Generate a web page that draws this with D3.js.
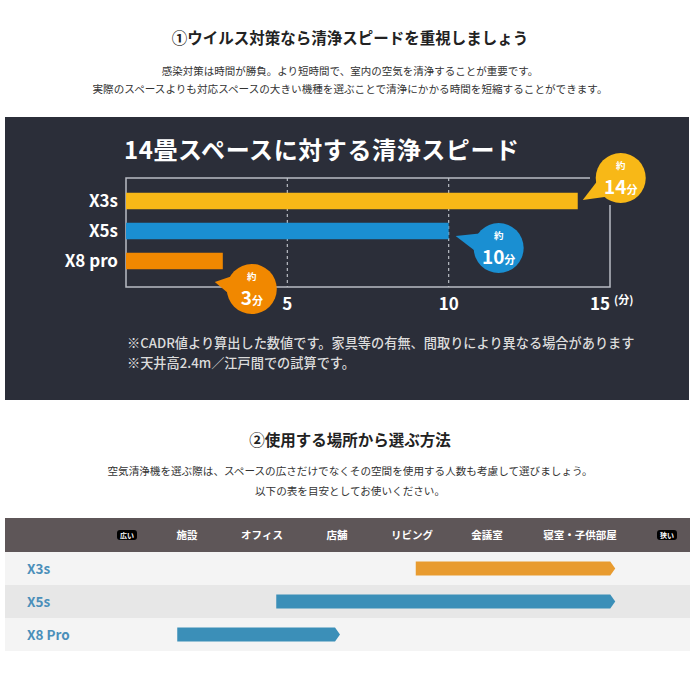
<!DOCTYPE html>
<html>
<head>
<meta charset="utf-8">
<script src="https://cdn.jsdelivr.net/npm/d3@7"></script>
<style>
  body { margin: 0; background: #fff; }
  text { font-family: "Noto Sans CJK JP", "Noto Sans", sans-serif; }
</style>
</head>
<body>
<div id="chart"></div>
<script>
// Data
var models = ["X3s", "X5s", "X8 pro"];
var minutes = [14, 10, 3];
var speedTicks = [5, 10, 15];
var barColors = ["#f8b817", "#1a8fd2", "#f18800"];

var places = ["施設", "オフィス", "店舗", "リビング", "会議室", "寝室・子供部屋"];
var rangeModels = ["X3s", "X5s", "X8 Pro"];
var rangeFrom = [3.05, 1.19, -0.13];
var rangeTo = [5.71, 5.71, 2.04];
var rangeColors = ["#e89b2f", "#3b8fb8", "#3b8fb8"];

var width = 700, height = 700;

var svg = d3.select("#chart")
  .append("svg")
  .attr("width", width)
  .attr("height", height);

// ---------- section 1 header ----------
svg.append("text")
  .attr("x", 350).attr("y", 44)
  .attr("text-anchor", "middle")
  .attr("font-size", 15.5).attr("font-weight", 700).attr("fill", "#222")
  .text("①ウイルス対策なら清浄スピードを重視しましょう");

svg.append("text")
  .attr("x", 350).attr("y", 75)
  .attr("text-anchor", "middle")
  .attr("font-size", 10.5).attr("fill", "#333")
  .text("感染対策は時間が勝負。より短時間で、室内の空気を清浄することが重要です。");

svg.append("text")
  .attr("x", 350).attr("y", 93)
  .attr("text-anchor", "middle")
  .attr("font-size", 10.6).attr("fill", "#333")
  .text("実際のスペースよりも対応スペースの大きい機種を選ぶことで清浄にかかる時間を短縮することができます。");

// ---------- dark panel ----------
svg.append("rect")
  .attr("x", 5).attr("y", 117)
  .attr("width", 684).attr("height", 283)
  .attr("fill", "#2b2e39");

svg.append("text")
  .attr("x", 124).attr("y", 159)
  .attr("font-size", 24).attr("font-weight", 700).attr("fill", "#fff")
  .attr("letter-spacing", 0.6)
  .text("14畳スペースに対する清浄スピード");

var x = d3.scaleLinear().domain([0, 15]).range([126, 610]);
var y = d3.scaleBand().domain(models).range([186, 276])
  .paddingInner(0.45).paddingOuter(0.225);
var top1 = 178, bottom1 = 287;

// frame
svg.append("path")
  .attr("d", "M" + 590 + "," + top1 + "H" + x(0) + "V" + bottom1 + "H" + x(15) + "V" + 205)
  .attr("fill", "none").attr("stroke", "#b9bcc4").attr("stroke-width", 1.5);

// dashed gridlines
svg.selectAll(".grid")
  .data(speedTicks.slice(0, -1))
  .enter().append("line")
  .attr("x1", function(d) { return x(d); })
  .attr("x2", function(d) { return x(d); })
  .attr("y1", top1).attr("y2", bottom1)
  .attr("stroke", "#b9bcc4").attr("stroke-width", 1.2)
  .attr("stroke-dasharray", "3,3");

// bars
svg.selectAll(".bar")
  .data(models)
  .enter().append("rect")
  .attr("x", x(0))
  .attr("y", function(d) { return y(d); })
  .attr("width", function(d, i) { return x(minutes[i]) - x(0); })
  .attr("height", y.bandwidth())
  .attr("fill", function(d, i) { return barColors[i]; });

// model labels
svg.selectAll(".mlabel")
  .data(models)
  .enter().append("text")
  .attr("x", 118)
  .attr("y", function(d) { return y(d) + y.bandwidth() / 2 + 6; })
  .attr("text-anchor", "end")
  .attr("font-size", 17).attr("font-weight", 700).attr("fill", "#fff")
  .text(function(d) { return d; });

// tick labels
svg.selectAll(".tick")
  .data(speedTicks)
  .enter().append("text")
  .attr("x", function(d) { return x(d); })
  .attr("y", 310)
  .attr("text-anchor", function(d, i) { return i === speedTicks.length - 1 ? "end" : "middle"; })
  .attr("font-size", 17).attr("font-weight", 700).attr("fill", "#fff")
  .text(function(d) { return d; });

svg.append("text")
  .attr("x", x(15) + 4).attr("y", 304)
  .attr("font-size", 11).attr("font-weight", 700).attr("fill", "#fff")
  .text("(分)");

// callout bubbles (offsets relative to bar end / bar centre)
var bubbleLayout = [
  { dx: 43, dy: -23, tx: -38, ty: 22 },
  { dx: 50, dy: 17, tx: -43, ty: -12 },
  { dx: 29, dy: 28, tx: -37, ty: -7 }
];
var r = 25;

var bubbles = svg.selectAll(".bubble")
  .data(models)
  .enter().append("g")
  .attr("transform", function(d, i) {
    var cx = x(minutes[i]) + bubbleLayout[i].dx;
    var cy = y(d) + y.bandwidth() / 2 + bubbleLayout[i].dy;
    return "translate(" + cx + "," + cy + ")";
  });

bubbles.append("path")
  .attr("d", function(d, i) {
    var b = bubbleLayout[i];
    var a = Math.atan2(b.ty, b.tx);
    var p1 = [Math.cos(a - 0.45) * r * 0.9, Math.sin(a - 0.45) * r * 0.9];
    var p2 = [Math.cos(a + 0.45) * r * 0.9, Math.sin(a + 0.45) * r * 0.9];
    return "M" + p1 + "L" + [b.tx, b.ty] + "L" + p2 + "Z";
  })
  .attr("fill", function(d, i) { return barColors[i]; });

bubbles.append("circle")
  .attr("r", r)
  .attr("fill", function(d, i) { return barColors[i]; });

bubbles.append("text")
  .attr("y", -9)
  .attr("text-anchor", "middle")
  .attr("font-size", 9.5).attr("font-weight", 700).attr("fill", "#fff")
  .text("約");

var num = bubbles.append("text")
  .attr("y", 16)
  .attr("text-anchor", "middle")
  .attr("font-weight", 700).attr("fill", "#fff");
num.append("tspan").attr("font-size", 19).text(function(d, i) { return minutes[i]; });
num.append("tspan").attr("font-size", 11).text("分");

// notes
svg.append("text")
  .attr("x", 127).attr("y", 348)
  .attr("font-size", 13.2).attr("font-weight", 500).attr("fill", "#dcdcdc")
  .text("※CADR値より算出した数値です。家具等の有無、間取りにより異なる場合があります");
svg.append("text")
  .attr("x", 127).attr("y", 368)
  .attr("font-size", 13.2).attr("font-weight", 500).attr("fill", "#dcdcdc")
  .text("※天井高2.4m／江戸間での試算です。");

// ---------- section 2 header ----------
svg.append("text")
  .attr("x", 350).attr("y", 446)
  .attr("text-anchor", "middle")
  .attr("font-size", 15.5).attr("font-weight", 700).attr("fill", "#222")
  .text("②使用する場所から選ぶ方法");

svg.append("text")
  .attr("x", 350).attr("y", 475)
  .attr("text-anchor", "middle")
  .attr("font-size", 10.6).attr("fill", "#333")
  .text("空気清浄機を選ぶ際は、スペースの広さだけでなくその空間を使用する人数も考慮して選びましょう。");

svg.append("text")
  .attr("x", 350).attr("y", 495)
  .attr("text-anchor", "middle")
  .attr("font-size", 10.6).attr("fill", "#333")
  .text("以下の表を目安としてお使いください。");

// ---------- table ----------
var x2 = d3.scaleLinear().domain([0, 5]).range([187, 562]);
var rowY = d3.scaleBand().domain(rangeModels).range([552, 651]);

svg.append("rect")
  .attr("x", 5).attr("y", 518)
  .attr("width", 685).attr("height", 34)
  .attr("fill", "#5e5658");

svg.selectAll(".row")
  .data(rangeModels)
  .enter().append("rect")
  .attr("x", 5)
  .attr("y", function(d) { return rowY(d); })
  .attr("width", 685)
  .attr("height", rowY.bandwidth())
  .attr("fill", function(d, i) { return i % 2 ? "#e7e7e7" : "#f4f4f4"; });

// header labels
svg.selectAll(".place")
  .data(places)
  .enter().append("text")
  .attr("x", function(d, i) { return x2(i) + (i === places.length - 1 ? 18 : 0); })
  .attr("y", 539)
  .attr("text-anchor", "middle")
  .attr("font-size", 10.5).attr("font-weight", 700).attr("fill", "#fff")
  .text(function(d) { return d; });

// wide / narrow badges
var badges = svg.selectAll(".badge")
  .data([{ t: "広い", u: -0.8 }, { t: "狭い", u: 6.4 }])
  .enter().append("g")
  .attr("transform", function(d) { return "translate(" + x2(d.u) + ",535)"; });
badges.append("rect")
  .attr("x", -10).attr("y", -5)
  .attr("width", 20).attr("height", 10)
  .attr("rx", 3)
  .attr("fill", "#000");
badges.append("text")
  .attr("y", 2.5)
  .attr("text-anchor", "middle")
  .attr("font-size", 7).attr("font-weight", 700).attr("fill", "#fff")
  .text(function(d) { return d.t; });

// row labels
svg.selectAll(".rlabel")
  .data(rangeModels)
  .enter().append("text")
  .attr("x", 27)
  .attr("y", function(d) { return rowY(d) + rowY.bandwidth() / 2 + 5; })
  .attr("font-size", 13.5).attr("font-weight", 700).attr("fill", "#4b8fba")
  .text(function(d) { return d; });

// range arrows
svg.selectAll(".range")
  .data(rangeModels)
  .enter().append("path")
  .attr("d", function(d, i) {
    var x0 = x2(rangeFrom[i]), x1 = x2(rangeTo[i]);
    var yc = rowY(d) + rowY.bandwidth() / 2, h = 7;
    return "M" + x0 + "," + (yc - h) + "H" + (x1 - 5) + "L" + x1 + "," + yc +
      "L" + (x1 - 5) + "," + (yc + h) + "H" + x0 + "Z";
  })
  .attr("fill", function(d, i) { return rangeColors[i]; });
</script>
</body>
</html>
